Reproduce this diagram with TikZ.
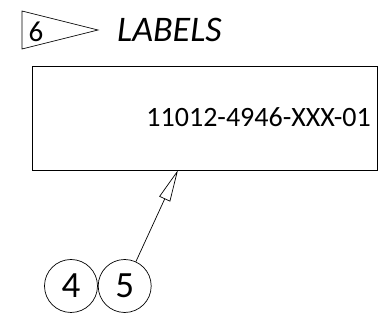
\documentclass[tikz,border=0pt]{standalone}
\usepackage{fontspec}
\setmainfont{Carlito}
\usepackage{tikz}
\usetikzlibrary{positioning,shapes,arrows.meta}

\begin{document}
\begin{tikzpicture}[x=1pt, y=-1pt, node distance=0pt]

    % Define styles
    \tikzstyle{labelbox} = [rectangle, draw, line width=0.9pt, minimum width=345pt, minimum height=104pt, inner sep=0pt]
    \tikzstyle{balloon} = [circle, draw, line width=0.7pt, minimum size=53pt, inner sep=0pt, font=\fontsize{37}{37}\selectfont]
    \tikzstyle{flagline} = [line width=0.7pt]
    \tikzstyle{leader} = [line width=0.7pt, -{Triangle[open, length=32pt, width=12pt]}]

    \useasboundingbox (0,0) rectangle (392,328);

    % Flag note
    \coordinate (flag_top) at (22,11);
    \coordinate (flag_tip) at (98,30);
    \coordinate (flag_bot) at (22,49);
    \draw [flagline] (flag_top) -- (flag_tip) -- (flag_bot) -- cycle;
    \node [font=\fontsize{29}{29}\selectfont] (six) at (36,32) {6};
    \node [anchor=base west, inner sep=0pt, font=\fontsize{36}{36}\selectfont\itshape] (title) at (117,42) {LABELS};

    % Label
    \node [labelbox] (box) at (204.5,118) {};
    \node [anchor=base east, inner sep=0pt, font=\fontsize{28}{28}\selectfont] (partno) at (371,127) {11012-4946-XXX-01};
    \coordinate (tip) at (178,170);

    % Balloons
    \node [balloon] (four) at (71,286) {4};
    \node [balloon, right=of four] (five) {5};

    % Leader
    \draw [leader] (five) -- (tip);

\end{tikzpicture}
\end{document}
